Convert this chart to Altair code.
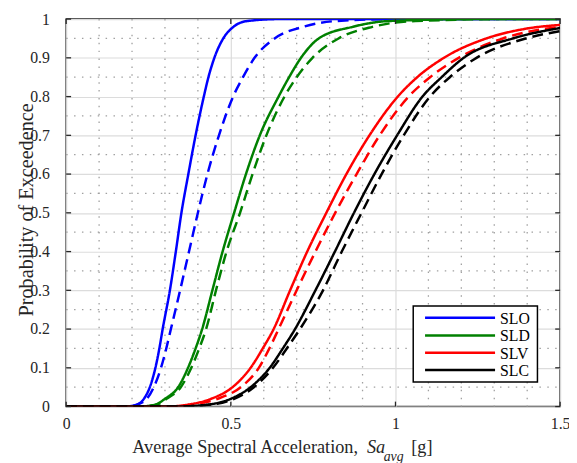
import altair as alt
import pandas as pd

# ---------------- data ----------------
STATES = ["SLO", "SLD", "SLV", "SLC"]
COLORS = ["#0000ff", "#008000", "#ff0000", "#000000"]

P_LOW = [0, 0, 0.005, 0.02, 0.05, 0.1, 0.15, 0.2, 0.3, 0.4, 0.5, 0.6, 0.7, 0.8, 0.85, 0.9, 0.95, 0.98, 0.995, 1, 1]
P_HIGH = [0, 0, 0.005, 0.02, 0.05, 0.1, 0.15, 0.2, 0.3, 0.4, 0.5, 0.6, 0.7, 0.8, 0.85, 0.9, 0.95]

slo_solid_x = [0, 0.18, 0.215, 0.236, 0.254, 0.271, 0.283, 0.293, 0.315, 0.333, 0.350, 0.371, 0.393, 0.418, 0.432, 0.450, 0.477, 0.508, 0.55, 0.65, 1.5]
slo_solid_p = P_LOW
slo_dash_x = [0, 0.19, 0.215, 0.245, 0.266, 0.288, 0.304, 0.318, 0.346, 0.373, 0.400, 0.429, 0.464, 0.507, 0.537, 0.572, 0.633, 0.72, 0.82, 1.0, 1.5]
slo_dash_p = P_LOW

sld_solid_x = [0, 0.22, 0.27, 0.30, 0.340, 0.370, 0.393, 0.413, 0.444, 0.475, 0.510, 0.546, 0.588, 0.645, 0.677, 0.713, 0.767, 0.870, 0.98, 1.25, 1.5]
sld_solid_p = P_LOW
sld_dash_x = [0, 0.22, 0.275, 0.305, 0.348, 0.380, 0.404, 0.425, 0.455, 0.487, 0.528, 0.566, 0.608, 0.663, 0.700, 0.748, 0.827, 0.93, 1.06, 1.35, 1.5]
sld_dash_p = P_LOW

slv_solid_x = [0, 0.30, 0.37, 0.44, 0.505, 0.56, 0.597, 0.630, 0.680, 0.732, 0.790, 0.851, 0.921, 1.007, 1.066, 1.147, 1.276, 1.395, 1.5]
slv_solid_p = P_HIGH + [0.975, 0.985]
slv_dash_x = [0, 0.30, 0.38, 0.46, 0.530, 0.585, 0.617, 0.645, 0.700, 0.757, 0.817, 0.882, 0.952, 1.040, 1.105, 1.192, 1.326, 1.455, 1.5]
slv_dash_p = P_HIGH + [0.975, 0.98]

slc_solid_x = [0, 0.33, 0.43, 0.50, 0.56, 0.618, 0.658, 0.695, 0.757, 0.816, 0.874, 0.936, 1.005, 1.082, 1.140, 1.207, 1.356, 1.5]
slc_solid_p = P_HIGH + [0.977]
slc_dash_x = [0, 0.34, 0.44, 0.51, 0.57, 0.628, 0.670, 0.710, 0.780, 0.837, 0.897, 0.958, 1.025, 1.105, 1.165, 1.246, 1.396, 1.5]
slc_dash_p = P_HIGH + [0.969]

X_TICKS = [0, 0.5, 1, 1.5]
Y_TICKS = [0, 0.1, 0.2, 0.3, 0.4, 0.5, 0.6, 0.7, 0.8, 0.9, 1]
X_MINOR = [0.1, 0.2, 0.3, 0.4, 0.6, 0.7, 0.8, 0.9, 1.1, 1.2, 1.3, 1.4]
Y_MINOR = [0.05, 0.15, 0.25, 0.35, 0.45, 0.55, 0.65, 0.75, 0.85, 0.95]

# ---------------- build tables ----------------
curves = {
    "SLO": [(slo_solid_x, slo_solid_p, "solid"), (slo_dash_x, slo_dash_p, "dashed")],
    "SLD": [(sld_solid_x, sld_solid_p, "solid"), (sld_dash_x, sld_dash_p, "dashed")],
    "SLV": [(slv_solid_x, slv_solid_p, "solid"), (slv_dash_x, slv_dash_p, "dashed")],
    "SLC": [(slc_solid_x, slc_solid_p, "solid"), (slc_dash_x, slc_dash_p, "dashed")],
}

W, H = 501, 393
FONT = "Liberation Serif, Times New Roman, Times, DejaVu Serif, serif"
DARK = "#262626"
XTITLE_SIZE = 18.5
YTITLE_SIZE = 20.5

x_scale = alt.Scale(domain=[0, 1.5], nice=False, zero=False)
y_scale = alt.Scale(domain=[0, 1], nice=False, zero=False)

x_axis = alt.Axis(values=X_TICKS, labelExpr="'' + datum.value", grid=True, gridColor="#dcdcdc",
                  gridWidth=1.2, ticks=False, tickSize=0, domain=False, labelFont=FONT,
                  labelFontSize=16, labelColor=DARK, labelBaseline="alphabetic", labelPadding=22,
                  title=None, labelFlush=False)
y_axis = alt.Axis(values=Y_TICKS, labelExpr="'' + datum.value", grid=True, gridColor="#dcdcdc",
                  gridWidth=1.2, ticks=False, tickSize=0, domain=False, labelFont=FONT,
                  labelFontSize=16, labelColor=DARK, labelPadding=17, labelFlush=False,
                  title="Probability of Exceedence", titleFont=FONT, titleFontSize=YTITLE_SIZE,
                  titleFontWeight="normal", titleColor=DARK, titleX=-34, titleY=193,
                  titleBaseline="alphabetic", titleAngle=270)


def X(field):
    return alt.X(field, type="quantitative", scale=x_scale, axis=x_axis)


def Y(field):
    return alt.Y(field, type="quantitative", scale=y_scale, axis=y_axis)


color = alt.Color("state:N", scale=alt.Scale(domain=STATES, range=COLORS), legend=None)
dash = alt.StrokeDash("kind:N", scale=alt.Scale(domain=["solid", "dashed"], range=[[1, 0], [11, 6]]),
                      legend=None)

layers = []

xminor = pd.DataFrame({"v": X_MINOR})
yminor = pd.DataFrame({"v": Y_MINOR})
layers.append(alt.Chart(xminor).mark_rule(color="#a0a0a0", strokeWidth=1.3, strokeDash=[1.5, 6.5])
              .encode(x=X("v"), y=alt.value(0), y2=alt.value(H)))
layers.append(alt.Chart(yminor).mark_rule(color="#a0a0a0", strokeWidth=1.3, strokeDash=[1.5, 6.5])
              .encode(y=Y("v"), x=alt.value(0), x2=alt.value(W)))

for st in STATES:
    rows = []
    for xs, ps, kind in curves[st]:
        for i, (xv, pv) in enumerate(zip(xs, ps)):
            rows.append({"x": xv, "p": pv, "state": st, "kind": kind, "o": i})
    df = pd.DataFrame(rows)
    layers.append(alt.Chart(df).mark_line(strokeWidth=2.5, interpolate="monotone", clip=True)
                  .encode(x=X("x"), y=Y("p"), color=color, strokeDash=dash, detail="kind:N",
                          order="o:Q"))

xt = pd.DataFrame({"v": X_TICKS})
yt = pd.DataFrame({"v": Y_TICKS})
tick_style = dict(color=DARK, strokeWidth=1.3)
layers.append(alt.Chart(xt).mark_rule(**tick_style).encode(x=X("v"), y=alt.value(H), y2=alt.value(H - 5)))
layers.append(alt.Chart(xt).mark_rule(**tick_style).encode(x=X("v"), y=alt.value(0), y2=alt.value(5)))
layers.append(alt.Chart(yt).mark_rule(**tick_style).encode(y=Y("v"), x=alt.value(0), x2=alt.value(5)))
layers.append(alt.Chart(yt).mark_rule(**tick_style).encode(y=Y("v"), x=alt.value(W - 5), x2=alt.value(W)))

# ---------------- legend (drawn box, one entry per state) ----------------
legend_df = pd.DataFrame({"state": STATES, "color": COLORS})
LEG_X0, LEG_X1, LEG_Y0, LEG_Y1 = 352, 478, 291, 368
ROW_Y = [303, 321, 338.5, 356]
layers.append(alt.Chart(legend_df.head(1)).mark_rect(fill="white", stroke="black", strokeWidth=1.5)
              .encode(x=alt.value(LEG_X0), x2=alt.value(LEG_X1), y=alt.value(LEG_Y0), y2=alt.value(LEG_Y1)))
for i, st in enumerate(STATES):
    sub = legend_df[legend_df.state == st]
    layers.append(alt.Chart(sub).mark_rule(strokeWidth=2.5)
                  .encode(x=alt.value(364), x2=alt.value(435), y=alt.value(ROW_Y[i]), color=color))
    layers.append(alt.Chart(sub).mark_text(font=FONT, fontSize=16, color="black", align="left",
                                           baseline="middle", dy=1)
                  .encode(x=alt.value(440), y=alt.value(ROW_Y[i]), text="state:N"))

# ---------------- x-axis title with italic subscripted symbol ----------------
one = pd.DataFrame({"t": [0]})
tstyle = dict(font=FONT, color=DARK, align="left", baseline="alphabetic")
layers.append(alt.Chart(one).mark_text(text="Average Spectral Acceleration, ", fontSize=XTITLE_SIZE, **tstyle)
              .encode(x=alt.value(67), y=alt.value(440)))
layers.append(alt.Chart(one).mark_text(text="Sa", fontSize=XTITLE_SIZE, fontStyle="italic", **tstyle)
              .encode(x=alt.value(305), y=alt.value(440)))
layers.append(alt.Chart(one).mark_text(text="avg", fontSize=14, fontStyle="italic", **tstyle)
              .encode(x=alt.value(322), y=alt.value(448)))
layers.append(alt.Chart(one).mark_text(text="[g]", fontSize=XTITLE_SIZE, **tstyle)
              .encode(x=alt.value(350), y=alt.value(440)))

chart = alt.layer(*layers).properties(
    width=W, height=H,
    autosize=alt.AutoSizeParams(type="none"),
    padding={"left": 59, "top": 8, "right": 9, "bottom": 54},
    background="white",
).configure_view(stroke=DARK, strokeWidth=1.5)

chart.save("out.html", embed_options={"renderer": "svg", "actions": False})
